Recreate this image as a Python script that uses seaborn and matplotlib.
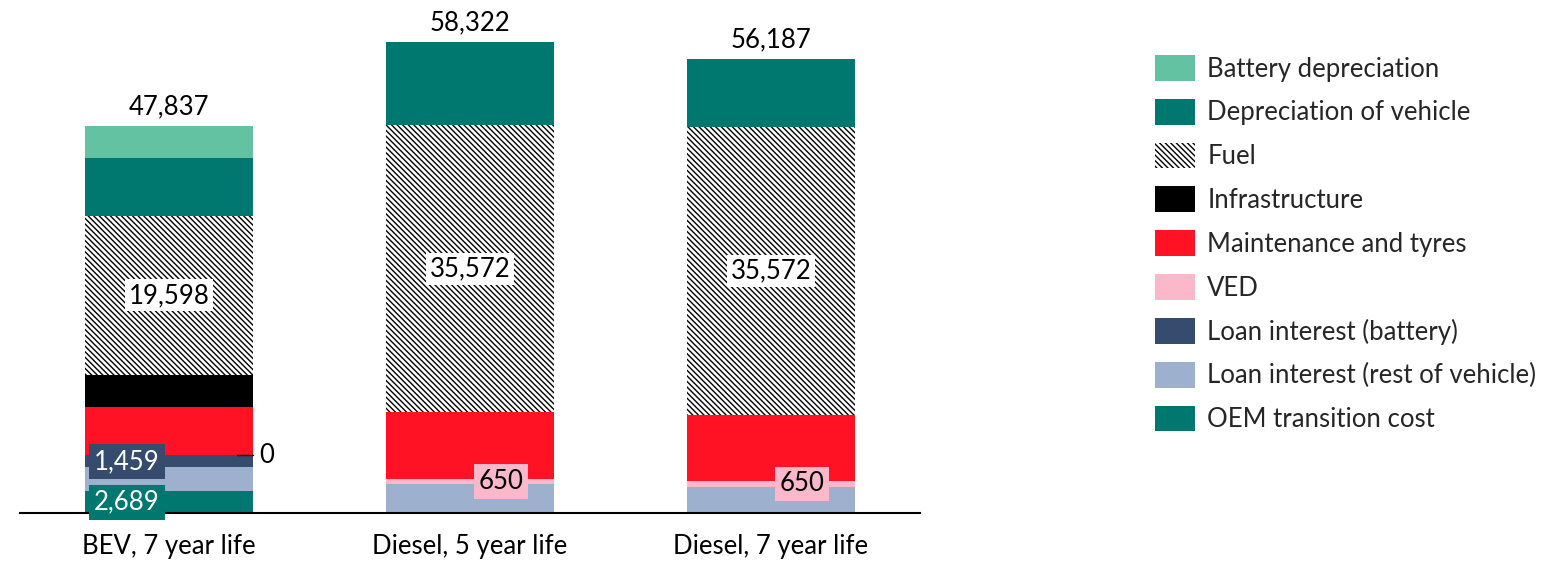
import numpy as np
import pandas as pd
import matplotlib
matplotlib.use("Agg")
import matplotlib.pyplot as plt
import seaborn as sns

# Cost categories (vehicle scenarios)
categories = ["BEV, 7 year life", "Diesel, 5 year life", "Diesel, 7 year life"]

# Cost components, stacked bottom to top (£ over life)
oem_transition = [2689, 0, 0]
loan_rest = [2970, 3560, 3275]
loan_battery = [1459, 0, 0]
ved = [0, 650, 650]
maintenance = [6061, 8240, 8250]
infrastructure = [3960, 0, 0]
fuel = [19598, 35572, 35572]
depreciation = [7260, 10300, 8440]
battery_depreciation = [3840, 0, 0]

components = [
    ("OEM transition cost", oem_transition, "#00786F", None),
    ("Loan interest (rest of vehicle)", loan_rest, "#9DB0CD", None),
    ("Loan interest (battery)", loan_battery, "#364C6E", None),
    ("VED", ved, "#FBB8CB", None),
    ("Maintenance and tyres", maintenance, "#FF1224", None),
    ("Infrastructure", infrastructure, "#000000", None),
    ("Fuel", fuel, "#FFFFFF", "\\" * 6),
    ("Depreciation of vehicle", depreciation, "#00786F", None),
    ("Battery depreciation", battery_depreciation, "#62C2A1", None),
]

sns.set_theme(style="white")
plt.rcParams["font.family"] = ["Lato", "DejaVu Sans"]
plt.rcParams["hatch.linewidth"] = 1.0

FS = 18.5
W, H = 1547, 561
fig = plt.figure(figsize=(W / 100, H / 100), dpi=100)
ax = fig.add_axes([20 / W, (H - 513) / H, 900 / W, 513 / H])

bottom = np.zeros(len(categories))
for name, vals, col, hatch in components:
    df = pd.DataFrame({"category": categories, "value": vals})
    sns.barplot(
        data=df, x="category", y="value", order=categories, ax=ax,
        color=col, saturation=1, width=0.555, errorbar=None,
        bottom=bottom, label=name, hatch=hatch, legend=False,
        edgecolor="black" if hatch else col, linewidth=0,
    )
    bottom = bottom + np.array(vals, dtype=float)

totals = bottom
ax.set_xlim(-0.495, 2.495)
ax.set_ylim(0, 63490)
ax.set_xlabel("")
ax.set_ylabel("")
ax.set_yticks([])
ax.tick_params(axis="x", length=0, pad=15, labelsize=FS, colors="black")
for s in ["left", "right", "top"]:
    ax.spines[s].set_visible(False)
ax.spines["bottom"].set_color("black")
ax.spines["bottom"].set_linewidth(1.5)

# Totals above each bar
for i, t in enumerate(totals):
    ax.annotate(f"{t:,.0f}", (i, t), xytext=(0, 5), textcoords="offset points",
                ha="center", va="bottom", fontsize=FS, color="black")

# Fuel labels on a white box
fuel_base = (np.array(oem_transition) + loan_rest + np.array(loan_battery) + ved
             + np.array(maintenance) + infrastructure)
for i, v in enumerate(fuel):
    ax.text(i, fuel_base[i] + v / 2, f"{v:,}", ha="center", va="center", fontsize=FS,
            color="black", bbox=dict(facecolor="white", edgecolor="none", pad=2.5))

# BEV small segment labels
ax.text(-0.14, oem_transition[0] / 2, f"{oem_transition[0]:,}", ha="center", va="center",
        fontsize=FS, color="white", bbox=dict(facecolor="#00786F", edgecolor="none", pad=3.5))
lb_mid = oem_transition[0] + loan_rest[0] + loan_battery[0] / 2
ax.text(-0.14, lb_mid, f"{loan_battery[0]:,}", ha="center", va="center",
        fontsize=FS, color="white", bbox=dict(facecolor="#364C6E", edgecolor="none", pad=3.5))

# BEV VED (zero) with leader line
ved_y = oem_transition[0] + loan_rest[0] + loan_battery[0]
ax.plot([0.226, 0.279], [ved_y, ved_y], color="black", lw=1)
ax.text(0.299, ved_y, f"{ved[0]:,}", ha="left", va="center", fontsize=FS, color="black")

# Diesel VED labels
for i in (1, 2):
    y = oem_transition[i] + loan_rest[i] + loan_battery[i] + ved[i] / 2
    ax.text(i + 0.103, y, f"{ved[i]:,}", ha="center", va="center", fontsize=FS,
            color="black", bbox=dict(facecolor="#FBB8CB", edgecolor="none", pad=3.5))

handles, labels = ax.get_legend_handles_labels()
fig.legend(handles[::-1], labels[::-1], loc="upper left",
           bbox_to_anchor=(1155 / W, 1 - 55 / H), frameon=False, fontsize=FS,
           handlelength=1.56, handleheight=1.17, labelspacing=0.67, handletextpad=0.47,
           borderpad=0, borderaxespad=0)

fig.savefig("out.png", dpi=100)
